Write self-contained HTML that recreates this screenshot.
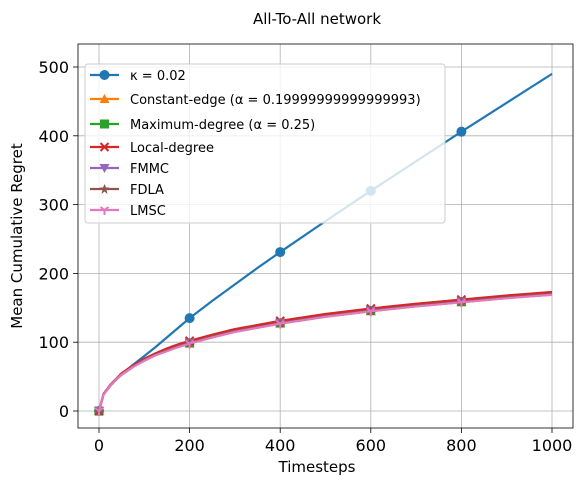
<!DOCTYPE html>
<html><head><meta charset="utf-8"><style>
body{margin:0;background:#fff;}
svg{display:block;font-family:"DejaVu Sans","Liberation Sans",sans-serif;}
</style></head><body>
<svg id="c" width="585" height="485"></svg>
<script>
const timesteps=[0,10,25,40,50,75,100,125,150,175,200,250,300,350,400,500,600,700,800,900,1000];
const kappaVals=[0,24,38,48,54,67,80,93,107,121,135,160,184,208,231,276,320,363,406,448,490];
const constEdge=[0,24,37,47,53,64,73,81,87,93,98,107,115,121,127,137,145,152,158,164,169];
const maxDeg=[0,24,37,47,53,64,74,82,88,94,99,108,116,122,128,138,146,153,159,165,170];
const localDeg=[0,25,38,48,55,66,76,84,91,97,102,111,119,125,131,141,149,156,162,168,173];
const fmmc=[0,24,37,47,53,64,74,82,88,94,99,108,116,122,128,138,146,153,159,165,170];
const fdla=[0,24,37,47,53,64,74,82,88,94,99,108,116,122,128,138,146,153,159,165,170];
const lmsc=[0,24,37,47,53,64,73,81,87,93,98,107,115,121,127,137,145,152,158,164,169];
const xTicks=[0,200,400,600,800,1000];
const yTicks=[0,100,200,300,400,500];
const series=[
 {name:"kappa",vals:kappaVals,color:"#1f77b4",m:"o"},
 {name:"constant-edge",vals:constEdge,color:"#ff7f0e",m:"^"},
 {name:"maximum-degree",vals:maxDeg,color:"#2ca02c",m:"s"},
 {name:"local-degree",vals:localDeg,color:"#d62728",m:"x"},
 {name:"fmmc",vals:fmmc,color:"#9467bd",m:"v"},
 {name:"fdla",vals:fdla,color:"#8c564b",m:"*"},
 {name:"lmsc",vals:lmsc,color:"#e377c2",m:"1"}];
const labels=["κ = 0.02","Constant-edge (α = 0.19999999999999993)","Maximum-degree (α = 0.25)","Local-degree","FMMC","FDLA","LMSC"];
const L=78,R=573,T=44,B=428;
const X=t=>99+t*(552-99)/1000;
const Y=v=>411-v*(411-67)/500;
const svg=document.getElementById('c');const NS="http://www.w3.org/2000/svg";
function mk(tag,attrs,parent){const e=document.createElementNS(NS,tag);for(const k in attrs)e.setAttribute(k,attrs[k]);(parent||svg).appendChild(e);return e;}
function txt(s,attrs){const e=mk('text',attrs);e.textContent=s;return e;}
xTicks.forEach(t=>{const g=mk('line',{x1:X(t),x2:X(t),y1:T,y2:B,stroke:"#b0b0b0","stroke-width":0.8});

mk('line',{x1:X(t),x2:X(t),y1:B,y2:B+5,stroke:"#000","stroke-width":0.8});
const l=txt(t,{x:X(t),y:B+23,"text-anchor":"middle","font-size":16});
});
yTicks.forEach(v=>{const g=mk('line',{x1:L,x2:R,y1:Y(v),y2:Y(v),stroke:"#b0b0b0","stroke-width":0.8});

mk('line',{x1:L-5,x2:L,y1:Y(v),y2:Y(v),stroke:"#000","stroke-width":0.8});
const l=txt(v,{x:L-9,y:Y(v)+6,"text-anchor":"end","font-size":16});
});
function marker(m,x,y,c,parent){
 if(m==="o")return mk('circle',{cx:x,cy:y,r:5,fill:c},parent);
 if(m==="s")return mk('rect',{x:x-4.5,y:y-4.5,width:9,height:9,fill:c},parent);
 if(m==="^")return mk('polygon',{points:`${x},${y-5} ${x-5},${y+4} ${x+5},${y+4}`,fill:c},parent);
 if(m==="v")return mk('polygon',{points:`${x},${y+5} ${x-5},${y-4} ${x+5},${y-4}`,fill:c},parent);
 if(m==="x")return mk('path',{d:`M${x-4},${y-4}L${x+4},${y+4}M${x-4},${y+4}L${x+4},${y-4}`,stroke:c,"stroke-width":2},parent);
 if(m==="*")return mk('polygon',{points:`${x},${y-5} ${x+1.5},${y-1.5} ${x+5},${y-1.5} ${x+2},${y+1} ${x+3},${y+5} ${x},${y+2.5} ${x-3},${y+5} ${x-2},${y+1} ${x-5},${y-1.5} ${x-1.5},${y-1.5}`,fill:c},parent);
 return mk('path',{d:`M${x},${y}L${x},${y+5}M${x},${y}L${x-4},${y-3}M${x},${y}L${x+4},${y-3}`,stroke:c,"stroke-width":2},parent);}
series.forEach(s=>{
 const g=mk('g',{});
 
 const p=mk('polyline',{points:timesteps.map((t,i)=>X(t)+","+Y(s.vals[i])).join(" "),fill:"none",stroke:s.color,"stroke-width":2.2,"stroke-linejoin":"round"},g);
 
 timesteps.forEach((t,i)=>{if(t%200===0&&t<1000){const mm=marker(s.m,X(t),Y(s.vals[i]),s.color,g);
 }});
});
const fr=mk('rect',{x:L,y:T,width:R-L,height:B-T,fill:"none",stroke:"#000","stroke-width":0.8});

const lg=mk('g',{});
mk('rect',{x:85,y:64,width:360,height:159,rx:3,fill:"#fff","fill-opacity":0.8,stroke:"#ccc"},lg);
const ly=[75,99,124,147,168,189,210];
series.forEach((s,i)=>{const e=mk('g',{},lg);
 
 mk('line',{x1:90,x2:119,y1:ly[i],y2:ly[i],stroke:s.color,"stroke-width":2.2},e);
 marker(s.m,104.5,ly[i],s.color,e);
 const t=mk('text',{x:130,y:ly[i]+5,"font-size":13},e);t.textContent=labels[i];});
const ti=txt("All-To-All network",{x:317,y:24,"text-anchor":"middle","font-size":15});

const xl=txt("Timesteps",{x:317,y:472,"text-anchor":"middle","font-size":15});

const yl=txt("Mean Cumulative Regret",{x:22,y:236,"text-anchor":"middle","font-size":15,transform:"rotate(-90 22 236)"});

</script>
</body></html>
